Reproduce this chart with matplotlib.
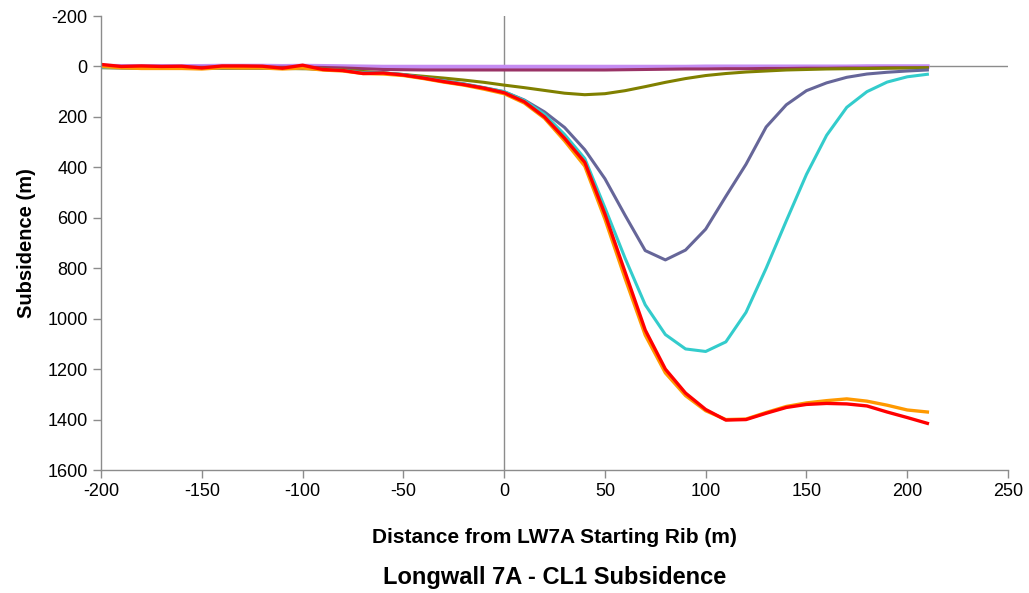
import numpy as np
import matplotlib
matplotlib.use("Agg")
import matplotlib.pyplot as plt

plt.rcParams['font.family'] = ['Liberation Sans', 'DejaVu Sans']
plt.rcParams['axes.unicode_minus'] = False

# distance from LW7A starting rib (m)
distance = list(range(-200, 211, 10))

# subsidence per survey
lavender = [-2, -1, -1, -1, -1, -1, -2, -2, -2, -1, -2, -1, 0, 1, 2, 2, 2, 2, 2, 2, 2,
            2, 2, 2, 2, 2, 2, 2, 2, 2, 1, 1, 1, 1, 1, 1, 1, 1, 0, 0, 0, 0]
magenta = [2, 3, 3, 3, 3, 3, 3, 3, 3, 3, 3, 4, 6, 9, 12, 13, 14, 14, 14, 14, 14,
           14, 14, 14, 14, 14, 13, 12, 11, 10, 10, 9, 9, 8, 8, 7, 7, 6, 6, 5, 5, 5]
olive = [5, 6, 7, 7, 8, 8, 8, 8, 8, 8, 9, 10, 14, 20, 26, 32, 39, 46, 54, 63, 74,
         84, 95, 106, 112, 108, 96, 80, 63, 48, 36, 28, 22, 18, 14, 12, 10, 9, 8, 7, 6, 5]
slate = [4, 5, 6, 6, 6, 7, 6, 6, 6, 8, 6, 12, 16, 24, 26, 32, 44, 57, 69, 84, 100,
         133, 180, 242, 330, 445, 590, 730, 767, 728, 645, 515, 388, 240, 152, 96, 65, 43, 30, 23, 18, 14]
turquoise = [3, 4, 6, 6, 6, 8, 5, 5, 5, 8, 5, 12, 16, 26, 25, 33, 45, 58, 70, 85, 100,
             135, 190, 270, 365, 560, 760, 945, 1063, 1120, 1130, 1092, 975, 800, 612, 428,
             273, 162, 100, 62, 41, 31]
orange = [0, 5, 8, 8, 8, 10, 5, 6, 6, 10, 6, 14, 18, 28, 30, 36, 48, 62, 74, 90, 108,
          145, 205, 295, 395, 605, 840, 1065, 1215, 1305, 1365, 1400, 1398, 1372, 1348, 1334,
          1325, 1318, 1327, 1343, 1362, 1370]
red = [-8, 0, -2, 0, -1, 6, -2, -2, -1, 7, -5, 12, 16, 28, 26, 34, 46, 60, 72, 86, 104,
       140, 200, 285, 380, 585, 815, 1045, 1200, 1295, 1360, 1402, 1400, 1375, 1352, 1340,
       1336, 1338, 1346, 1370, 1392, 1415]

series = [
    (lavender, '#c48cf2', 3.2),
    (magenta, '#993366', 2.2),
    (olive, '#808000', 2.2),
    (slate, '#666699', 2.2),
    (turquoise, '#33cccc', 2.2),
    (orange, '#ff9900', 2.4),
    (red, '#ff0000', 2.4),
]

fig = plt.figure(figsize=(10.29, 5.93), dpi=100)
ax = fig.add_axes([0.0982, 0.2074, 0.8814, 0.7656])

grey = '#8c8c8c'
ax.axhline(0, color=grey, lw=1, zorder=1)
ax.axvline(0, color=grey, lw=1, zorder=1)

for vals, col, lw in series:
    ax.plot(distance, vals, color=col, lw=lw, zorder=2)

ax.set_xlim(-200, 250)
ax.set_ylim(1600, -200)
ax.set_xticks(range(-200, 251, 50))
ax.set_yticks(range(-200, 1601, 200))

for side in ['top', 'right']:
    ax.spines[side].set_visible(False)
for side in ['left', 'bottom']:
    ax.spines[side].set_color(grey)
    ax.spines[side].set_linewidth(1)
ax.tick_params(axis='both', colors=grey, labelcolor='black', labelsize=13,
               length=6, width=1, direction='out')

ax.set_ylabel('Subsidence (m)', fontsize=14.5, fontweight='bold', labelpad=8)
fig.text(0.539, 0.093, 'Distance from LW7A Starting Rib (m)', ha='center', va='center',
         fontsize=15, fontweight='bold')
fig.text(0.539, 0.026, 'Longwall 7A - CL1 Subsidence', ha='center', va='center',
         fontsize=17, fontweight='bold')

fig.savefig('out.png', dpi=100)
